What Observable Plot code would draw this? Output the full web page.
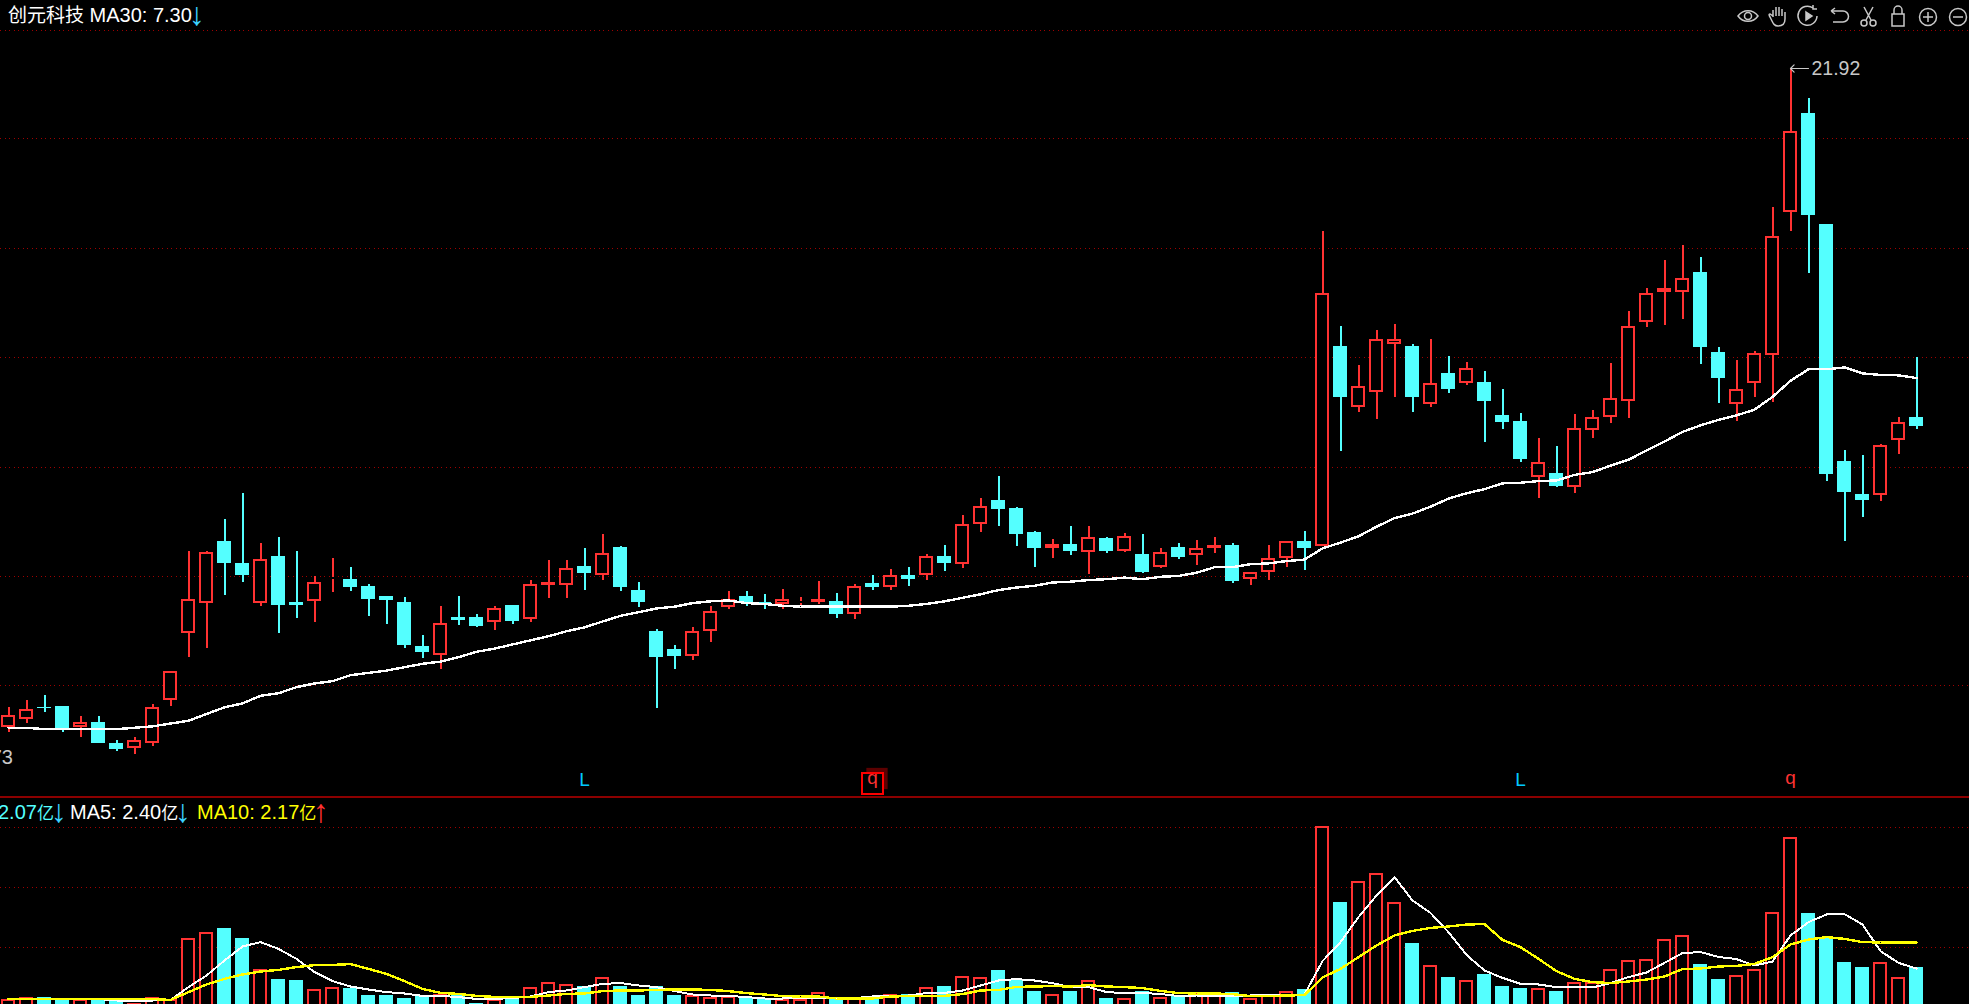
<!DOCTYPE html>
<html><head><meta charset="utf-8">
<style>
html,body{margin:0;padding:0;background:#000;width:1969px;height:1004px;overflow:hidden;position:relative}
svg{display:block}
.t{position:absolute;white-space:pre;font:20px 'Liberation Sans','Noto Sans CJK SC',sans-serif;line-height:24px}
.a{display:inline-block;font-size:20px;line-height:24px;transform:scale(1.6);transform-origin:50% 55%}
.c{font-size:19px}
.n{font-size:17px}
#icons{position:absolute;left:1733px;top:4px;display:flex;gap:0}
#icons svg{width:30px;height:24px;fill:none;stroke:#c8c8c8;stroke-width:1.5}
</style>
<script src="https://cdn.jsdelivr.net/npm/d3@7"></script>
<script src="https://cdn.jsdelivr.net/npm/@observablehq/plot@0.6"></script>
</head><body>
<div id="upper"></div><div id="lower"></div>
<div class="t" style="left:8px;top:3px;color:#fff"><span class="c">创元科技</span> MA30: 7.30<span class="a" style="color:#3cd2ff">↓</span></div>
<div class="t" style="left:-60px;width:73px;text-align:right;top:745px;color:#c8c8c8">1.73</div>
<div class="t" style="left:-2px;top:800px;color:#54ffff">2.07<span class="n">亿</span><span class="a" style="color:#3cd2ff">↓</span></div>
<div class="t" style="left:70px;top:800px;color:#fff">MA5: 2.40<span class="n">亿</span><span class="a" style="color:#3cd2ff">↓</span></div>
<div class="t" style="left:197px;top:800px;color:#ffff00">MA10: 2.17<span class="n">亿</span><span class="a" style="color:#ff3232">↑</span></div>
<div id="icons">
<svg viewBox="0 0 30 24"><path d="M5 12c5-7 15-7 20 0c-5 7-15 7-20 0z"/><circle cx="15" cy="12" r="3.5"/></svg>
<svg viewBox="0 0 30 24"><path d="M10 13V6M13 12V3M16 12V3M19 12V5M22 13V8M10 12l-3-2c-2 0 0 3 1 5c2 4 3 7 7 7c5 0 7-3 7-7v-3"/></svg>
<svg viewBox="0 0 30 24"><path d="M20 4a9.5 9.5 0 1 0 4 8M20 1v4h4"/><path d="M13 8l6 4l-6 4z" fill="#c8c8c8"/></svg>
<svg viewBox="0 0 30 24"><path d="M8 7h12a5 5 0 0 1 0 11H10M8 7l4-3M8 7l4 3"/></svg>
<svg viewBox="0 0 30 24"><path d="M11 3l7 13M20 3l-7 13"/><circle cx="11" cy="19" r="3"/><circle cx="20" cy="19" r="3"/></svg>
<svg viewBox="0 0 30 24"><rect x="9" y="10" width="12" height="12"/><path d="M11 10V6a4 4 0 0 1 8 0v4"/></svg>
<svg viewBox="0 0 30 24"><circle cx="15" cy="13" r="8.5"/><path d="M15 8v10M10 13h10"/></svg>
<svg viewBox="0 0 30 24"><circle cx="15" cy="13" r="8.5"/><path d="M10 13h10"/></svg>
</div>
<script>
const open=[1.91,1.97,2.06,2.07,1.91,1.95,1.80,1.77,1.80,2.11,2.71,3.03,3.80,3.51,3.03,3.60,3.04,3.05,3.31,3.31,3.22,3.10,3.04,2.58,2.50,2.87,2.87,2.82,3.00,2.85,3.23,3.23,3.47,3.36,3.72,3.17,2.73,2.55,2.49,2.73,2.98,3.10,3.04,3.01,3.03,3.04,3.05,2.90,3.26,3.21,3.36,3.35,3.60,3.50,4.06,4.43,4.30,3.93,3.71,3.76,3.66,3.85,3.67,3.63,3.46,3.72,3.62,3.71,3.75,3.31,3.39,3.58,3.80,3.74,7.83,6.25,6.61,7.90,7.83,6.33,7.09,6.82,6.86,6.07,5.94,4.83,4.90,4.65,5.73,6.03,6.39,8.56,9.57,9.57,10.30,7.66,6.33,6.82,7.58,12.88,18.57,12.31,5.12,4.53,4.52,5.54,6.03];
const close=[2.00,2.04,2.05,1.90,1.95,1.80,1.76,1.82,2.06,2.35,3.07,3.66,3.51,3.36,3.56,3.00,3.00,3.27,3.33,3.21,3.07,3.06,2.59,2.52,2.81,2.84,2.78,2.97,2.83,3.24,3.27,3.44,3.38,3.64,3.21,3.04,2.48,2.49,2.73,2.94,3.07,3.04,3.00,3.07,3.05,3.07,2.91,3.22,3.21,3.35,3.31,3.60,3.51,4.06,4.33,4.29,3.90,3.71,3.76,3.67,3.86,3.67,3.88,3.39,3.66,3.59,3.71,3.75,3.28,3.39,3.58,3.80,3.71,9.52,6.48,6.75,8.05,8.05,6.48,6.84,6.69,7.23,6.38,5.92,5.16,5.10,4.66,5.79,6.02,6.45,8.45,9.54,9.72,10.09,7.80,6.96,6.69,7.62,11.79,17.39,12.72,4.88,4.57,4.43,5.42,5.92,5.83];
const high=[2.06,2.11,2.15,2.07,1.99,1.99,1.82,1.84,2.08,2.35,3.67,3.67,4.13,4.54,3.78,3.86,3.67,3.34,3.57,3.46,3.24,3.10,3.09,2.69,2.99,3.10,2.90,2.99,3.00,3.30,3.55,3.55,3.71,3.90,3.74,3.27,2.75,2.59,2.77,2.99,3.16,3.16,3.13,3.19,3.09,3.28,3.14,3.25,3.36,3.43,3.46,3.63,3.75,4.19,4.46,4.84,4.32,3.95,3.83,4.03,4.03,3.86,3.92,3.90,3.71,3.78,3.82,3.86,3.78,3.39,3.75,3.80,3.95,12.00,8.44,7.30,8.31,8.50,7.89,8.03,7.55,7.37,7.14,6.69,6.11,5.57,5.41,6.08,6.18,7.36,8.93,9.72,10.78,11.39,10.90,7.80,7.44,7.69,13.11,21.92,19.62,12.31,5.33,5.23,5.45,6.03,7.52];
const low=[1.88,1.94,2.02,1.88,1.84,1.80,1.75,1.73,1.78,2.07,2.48,2.56,3.12,3.27,2.99,2.71,2.86,2.82,3.15,3.16,2.88,2.80,2.56,2.47,2.37,2.79,2.77,2.74,2.80,2.82,3.08,3.08,3.18,3.30,3.16,2.98,2.05,2.37,2.45,2.62,2.96,2.99,2.96,2.96,3.00,3.01,2.86,2.85,3.18,3.18,3.22,3.30,3.41,3.45,3.93,4.02,3.74,3.46,3.57,3.61,3.37,3.64,3.65,3.38,3.45,3.56,3.48,3.64,3.26,3.23,3.29,3.46,3.42,3.73,5.32,6.14,5.97,6.49,6.14,6.24,6.59,6.78,5.49,5.77,5.10,4.47,4.65,4.55,5.57,5.90,6.01,8.41,8.47,8.66,7.33,6.34,5.94,6.49,6.36,12.00,10.27,4.75,3.80,4.16,4.41,5.25,5.76];
const ma30=[1.91,1.91,1.90,1.90,1.90,1.90,1.90,1.91,1.92,1.94,1.96,2.01,2.06,2.09,2.15,2.17,2.22,2.25,2.27,2.32,2.34,2.36,2.39,2.42,2.44,2.48,2.53,2.56,2.60,2.64,2.68,2.73,2.77,2.83,2.89,2.93,2.97,2.99,3.03,3.05,3.06,3.03,3.02,3.00,2.99,2.99,2.99,2.99,2.99,2.99,3.00,3.02,3.05,3.09,3.13,3.18,3.21,3.23,3.27,3.28,3.30,3.31,3.33,3.31,3.34,3.35,3.39,3.46,3.46,3.50,3.51,3.54,3.56,3.71,3.79,3.88,4.02,4.15,4.22,4.33,4.46,4.55,4.62,4.72,4.73,4.76,4.77,4.87,4.92,5.04,5.15,5.33,5.51,5.71,5.85,5.97,6.07,6.20,6.50,6.90,7.20,7.20,7.25,7.09,7.05,7.04,6.97];
const volume=[.53,.63,.65,.50,.53,.57,.53,.37,.63,.53,3.62,3.92,4.10,3.60,2.07,1.55,1.50,1.07,1.17,1.10,.75,.75,.60,.70,.78,.87,.35,.53,.60,1.17,1.38,1.32,1.20,1.67,1.20,.75,1.20,.75,.73,.63,.70,.67,.58,.57,.53,.88,.60,.60,.70,.78,.78,1.17,1.20,1.68,1.63,2.00,1.53,.95,.78,.95,1.48,.60,.58,.93,.63,.75,.83,.75,.88,.58,.73,.93,1.05,9.18,5.40,6.47,6.87,5.42,3.35,2.27,1.65,1.48,1.80,1.20,1.10,1.08,.95,1.38,1.38,2.07,2.52,2.57,3.57,3.77,2.30,1.55,1.77,2.07,4.92,8.67,4.85,3.67,2.40,2.15,2.42,1.67,2.15];
const volMa5=[.57,.57,.57,.57,.57,.57,.50,.50,.50,.53,1.17,1.75,2.50,3.20,3.42,3.08,2.58,1.92,1.47,1.20,1.05,.92,.85,.73,.73,.67,.58,.58,.62,.70,.92,1.00,1.17,1.33,1.37,1.25,1.17,.97,.80,.75,.73,.67,.60,.60,.62,.63,.60,.62,.70,.72,.75,.87,.88,1.00,1.25,1.50,1.57,1.50,1.37,1.17,1.17,.92,.87,.87,.83,.72,.75,.75,.75,.75,.77,.77,.80,2.47,3.42,4.67,5.75,6.67,5.50,4.88,3.92,2.78,2.00,1.63,1.33,1.30,1.17,1.17,1.15,1.37,1.67,1.90,2.38,2.87,2.92,2.68,2.57,2.25,2.45,3.75,4.42,4.80,4.82,4.30,2.97,2.38,2.10];
const volMa10=[.57,.57,.57,.57,.57,.57,.57,.57,.57,.53,.92,1.30,1.58,1.80,1.95,2.03,2.17,2.27,2.28,2.32,2.08,1.83,1.47,1.08,.88,.83,.73,.68,.68,.68,.75,.83,.85,.97,1.00,1.00,1.03,1.05,1.05,1.03,.97,.87,.80,.72,.70,.70,.60,.60,.60,.70,.72,.72,.73,.82,1.00,1.03,1.18,1.20,1.22,1.20,1.27,1.20,1.17,1.12,.98,.87,.85,.85,.82,.72,.72,.75,.77,1.65,2.08,2.67,3.25,3.75,3.98,4.13,4.20,4.30,4.32,3.53,3.17,2.58,1.97,1.58,1.42,1.37,1.45,1.55,1.70,2.07,2.10,2.20,2.23,2.33,2.67,3.30,3.55,3.67,3.58,3.42,3.40,3.40,3.40];
const priceGrid=[25.2,16.9,11.26,7.53,5.01,3.34,2.23];
const volGrid=[9.15,6.15,3.15];
const dividerVol=10.7;
const peak={i:99,price:21.92,label:"21.92"};
const signals=[{i:32,label:"L",color:"#00c8ff"},{i:48,label:"q",color:"#ff3232"},{i:84,label:"L",color:"#00c8ff"},{i:99,label:"q",color:"#ff3232"}];
const boxed=[48];

const RED="#ff3232",CYAN="#54ffff",GRID="#a00000",FONT="'Liberation Sans','Noto Sans CJK SC',sans-serif";
const rows=open.map((o,i)=>({i,o,c:close[i],h:high[i],l:low[i],v:volume[i],up:close[i]>o}));
const up=rows.filter(d=>d.up),down=rows.filter(d=>!d.up);
const x={type:"band",domain:d3.range(rows.length),range:[-1.4,1924.6],paddingInner:.22,paddingOuter:.11,axis:null};
const dots="1,3.5",crisp="crispEdges";

const top_=Plot.plot({width:1969,height:795,marginTop:0,marginRight:0,marginBottom:0,marginLeft:0,
  style:{background:"#000"},x,
  y:{type:"log",domain:[21.92,1.73],range:[68,754],axis:null},
  marks:[
    Plot.ruleY(priceGrid,{stroke:GRID,strokeWidth:1,strokeDasharray:dots,shapeRendering:crisp}),
    Plot.ruleX(up,{x:"i",y1:"h",y2:"c",stroke:RED,strokeWidth:2,shapeRendering:crisp}),
    Plot.ruleX(up,{x:"i",y1:"o",y2:"l",stroke:RED,strokeWidth:2,shapeRendering:crisp}),
    Plot.ruleX(down,{x:"i",y1:"h",y2:"l",stroke:CYAN,strokeWidth:2,shapeRendering:crisp}),
    Plot.barY(down,{x:"i",y1:"o",y2:"c",fill:CYAN,shapeRendering:crisp}),
    Plot.barY(up,{x:"i",y1:"o",y2:"c",fill:"#000",stroke:RED,strokeWidth:2,insetLeft:1,insetRight:1,insetTop:1,insetBottom:1,shapeRendering:crisp}),
    Plot.line(rows,{x:"i",y:d=>ma30[d.i],stroke:"#fff",strokeWidth:2.4,shapeRendering:crisp}),
    Plot.vector([peak],{x:"i",y:"price",length:18,rotate:-90,anchor:"end",shape:"arrow",stroke:"#c8c8c8",strokeWidth:1.2}),
    Plot.text([peak],{x:"i",y:"price",text:"label",textAnchor:"start",dx:21,fill:"#c8c8c8",fontSize:19.5,fontFamily:FONT}),
    Plot.dot(signals.filter(d=>boxed.includes(d.i)),{x:"i",frameAnchor:"bottom",dx:4.5,dy:-17,r:12,symbol:"square",fill:"#5c0000"}),
    Plot.dot(signals.filter(d=>boxed.includes(d.i)),{x:"i",frameAnchor:"bottom",dy:-12,r:11.3,symbol:"square",fill:"#000",stroke:"#ff0000",strokeWidth:2,shapeRendering:crisp}),
    Plot.text(signals.filter(d=>d.label==="L"),{x:"i",frameAnchor:"bottom",dy:-10,text:"label",fill:"color",fontSize:19,fontFamily:FONT}),
    Plot.text(signals.filter(d=>d.label==="q"),{x:"i",frameAnchor:"bottom",dy:-12,text:"label",fill:"color",fontSize:19,fontFamily:FONT})
  ]});
document.getElementById("upper").append(top_);

const bottom=Plot.plot({width:1969,height:209,marginTop:0,marginRight:0,marginBottom:0,marginLeft:0,
  style:{background:"#000"},x,
  y:{type:"linear",domain:[0,10],range:[215,15],axis:null},
  marks:[
    Plot.ruleY([dividerVol],{stroke:"#8c0000",strokeWidth:2,shapeRendering:crisp}),
    Plot.ruleY(volGrid,{stroke:GRID,strokeWidth:1,strokeDasharray:dots,shapeRendering:crisp}),
    Plot.barY(down,{x:"i",y1:0,y2:"v",fill:CYAN,shapeRendering:crisp}),
    Plot.barY(up,{x:"i",y1:0,y2:"v",fill:"#000",stroke:RED,strokeWidth:2,insetLeft:1,insetRight:1,insetTop:1,shapeRendering:crisp}),
    Plot.line(rows,{x:"i",y:d=>volMa5[d.i],stroke:"#fff",strokeWidth:2,shapeRendering:crisp}),
    Plot.line(rows,{x:"i",y:d=>volMa10[d.i],stroke:"#ffff00",strokeWidth:2.4,shapeRendering:crisp})
  ]});
document.getElementById("lower").append(bottom);
</script>
</body></html>
